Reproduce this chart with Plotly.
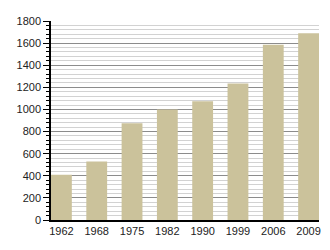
import plotly.graph_objects as go

years = ["1962", "1968", "1975", "1982", "1990", "1999", "2006", "2009"]
values = [410, 530, 875, 1000, 1075, 1235, 1585, 1690]

fig = go.Figure(go.Bar(x=years, y=values, marker=dict(color="#cbc29b", line=dict(width=0)), width=0.59))

fig.update_layout(
    width=330, height=250,
    margin=dict(l=51, r=9, t=21, b=30),
    plot_bgcolor="white", paper_bgcolor="white",
    font=dict(family="Liberation Sans, Arial, sans-serif", size=11, color="#222"),
    showlegend=False,
    bargap=0.41,
)
fig.update_xaxes(
    type="category", range=[-0.295, 7.295],
    showline=True, linecolor="black", linewidth=1.5,
    ticks="", showgrid=False, tickfont=dict(size=11),
)
fig.update_yaxes(
    range=[0, 1800], dtick=200, tick0=0,
    showline=True, linecolor="black", linewidth=1.5,
    ticks="outside", ticklen=6, tickcolor="black", tickwidth=1,
    showgrid=True, gridcolor="#8c8c8c", gridwidth=1,
    minor=dict(dtick=40, ticks="outside", ticklen=3, tickcolor="black", showgrid=True, gridcolor="#d2d2d2", gridwidth=1),
    zeroline=False,
)
fig.write_html("out.html")
